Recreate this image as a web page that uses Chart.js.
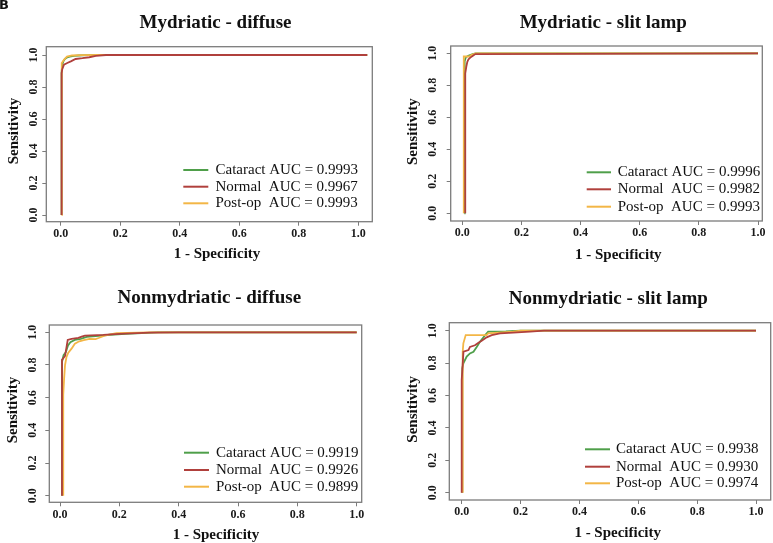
<!DOCTYPE html>
<html><head><meta charset="utf-8">
<script src="https://cdn.jsdelivr.net/npm/chart.js@4.4.1/dist/chart.umd.min.js"></script>
<style>
html,body{margin:0;padding:0;background:#fff;}
#wrap{position:relative;width:773px;height:543px;background:#fff;overflow:hidden;}
#wrap canvas{position:absolute;left:0;top:0;}
</style></head><body>
<div id="wrap">
<canvas id="c0" width="773" height="543"></canvas>
<canvas id="c1" width="773" height="543"></canvas>
<canvas id="c2" width="773" height="543"></canvas>
<canvas id="c3" width="773" height="543"></canvas>
</div>
<script>
// ---------------- data ----------------
const seriesNames = ['Cataract', 'Normal', 'Post-op'];
const legendGaps = [' ', '  ', '  '];
const panelTitles = ['Mydriatic - diffuse', 'Mydriatic - slit lamp', 'Nonmydriatic - diffuse', 'Nonmydriatic - slit lamp'];
const figureLabel = 'B';
const xAxisTitle = '1 - Specificity';
const yAxisTitle = 'Sensitivity';
const tickValues = [0, 0.2, 0.4, 0.6, 0.8, 1.0];
const tickLabels = ['0.0', '0.2', '0.4', '0.6', '0.8', '1.0'];

const aucMydDiffuse = [0.9993, 0.9967, 0.9993];
const aucMydSlit = [0.9996, 0.9982, 0.9993];
const aucNonDiffuse = [0.9919, 0.9926, 0.9899];
const aucNonSlit = [0.9938, 0.9930, 0.9974];

// Mydriatic - diffuse
const mydDiffuseCataractFpr = [0.003, 0.003, 0.005, 0.009, 0.014, 0.02, 0.03, 0.045, 0.06, 0.09, 0.12, 1.03];
const mydDiffuseCataractTpr = [0, 0.89, 0.94, 0.96, 0.975, 0.983, 0.99, 0.995, 0.997, 0.999, 1, 1];
const mydDiffuseNormalFpr = [0.003, 0.003, 0.005, 0.011, 0.022, 0.034, 0.05, 0.073, 0.096, 0.118, 0.152, 1.03];
const mydDiffuseNormalTpr = [0, 0.885, 0.91, 0.94, 0.95, 0.96, 0.975, 0.98, 0.986, 0.994, 1, 1];
const mydDiffusePostopFpr = [0.003, 0.003, 0.004, 0.011, 0.021, 0.038, 0.07, 0.13, 1.03];
const mydDiffusePostopTpr = [0, 0.91, 0.95, 0.97, 0.99, 0.997, 0.999, 1, 1];

// Mydriatic - slit lamp
const mydSlitCataractFpr = [0.007, 0.007, 0.009, 0.012, 0.02, 0.035, 0.045, 1.0];
const mydSlitCataractTpr = [0, 0.88, 0.95, 0.975, 0.985, 0.995, 1, 1];
const mydSlitNormalFpr = [0.01, 0.01, 0.0135, 0.017, 0.021, 0.027, 0.036, 0.044, 1.0];
const mydSlitNormalTpr = [0, 0.874, 0.916, 0.947, 0.963, 0.973, 0.985, 0.995, 1];
const mydSlitPostopFpr = [0.005, 0.005, 0.025, 0.03, 0.045, 1.0];
const mydSlitPostopTpr = [0, 0.98, 0.98, 0.99, 1, 1];

// Nonmydriatic - diffuse
const nonDiffuseCataractFpr = [0.007, 0.007, 0.012, 0.02, 0.027, 0.035, 0.05, 0.07, 0.09, 0.13, 0.17, 0.22, 0.33, 1.0];
const nonDiffuseCataractTpr = [0, 0.82, 0.86, 0.88, 0.92, 0.94, 0.953, 0.96, 0.972, 0.978, 0.985, 0.99, 1, 1];
const nonDiffuseNormalFpr = [0.0067, 0.0067, 0.017, 0.026, 0.039, 0.062, 0.073, 0.084, 0.146, 0.2, 0.3, 0.4, 1.0];
const nonDiffuseNormalTpr = [0, 0.831, 0.855, 0.953, 0.96, 0.966, 0.974, 0.98, 0.984, 0.99, 0.998, 1, 1];
const nonDiffusePostopFpr = [0.011, 0.011, 0.014, 0.017, 0.022, 0.028, 0.039, 0.05, 0.065, 0.08, 0.1, 0.12, 0.13, 0.15, 0.19, 0.3, 1.0];
const nonDiffusePostopTpr = [0, 0.62, 0.72, 0.8, 0.85, 0.875, 0.9, 0.93, 0.945, 0.952, 0.96, 0.958, 0.965, 0.98, 0.995, 1, 1];

// Nonmydriatic - slit lamp
const nonSlitCataractFpr = [0.002, 0.002, 0.006, 0.017, 0.028, 0.04, 0.051, 0.062, 0.08, 0.09, 0.15, 0.2, 1.0];
const nonSlitCataractTpr = [0, 0.768, 0.8, 0.84, 0.86, 0.87, 0.9, 0.932, 0.973, 0.994, 0.996, 1, 1];
const nonSlitNormalFpr = [0.0, 0.0, 0.006, 0.023, 0.028, 0.045, 0.057, 0.068, 0.085, 0.102, 0.13, 0.175, 0.232, 0.28, 1.0];
const nonSlitNormalTpr = [0, 0.696, 0.87, 0.88, 0.9, 0.91, 0.926, 0.938, 0.959, 0.973, 0.984, 0.988, 0.994, 1, 1];
const nonSlitPostopFpr = [0.0034, 0.0034, 0.0056, 0.0136, 0.085, 0.09, 0.175, 0.2, 1.0];
const nonSlitPostopTpr = [0, 0.87, 0.922, 0.973, 0.973, 0.984, 0.994, 1, 1];

// ---------------- styling / layout ----------------
const seriesColors = ['#4f9f4a', '#b0403c', '#f3b646'];
const seriesOrder = [2, 0, 1]; // red drawn on top, green at bottom
const FONT = '"Liberation Serif", "Times New Roman", serif';

const panels = [
  { canvas: 'c0', title: panelTitles[0], auc: aucMydDiffuse, corner: figureLabel,
    curves: [[mydDiffuseCataractFpr, mydDiffuseCataractTpr], [mydDiffuseNormalFpr, mydDiffuseNormalTpr], [mydDiffusePostopFpr, mydDiffusePostopTpr]],
    box: {l: 46.3, t: 46.7, r: 372.3, b: 221.7}, x0: 60.7, x1: 358.3, y0: 215, y1: 55,
    titleXY: [215.5, 23.3], xTitleXY: [217, 254.5], yTitleXY: [14.5, 131],
    yTickX: 34, xTickY: 234,
    leg: {x1: 183.3, x2: 208.3, tx: 215.5, rows: [170, 186.7, 203.3]} },
  { canvas: 'c1', title: panelTitles[1], auc: aucMydSlit,
    curves: [[mydSlitCataractFpr, mydSlitCataractTpr], [mydSlitNormalFpr, mydSlitNormalTpr], [mydSlitPostopFpr, mydSlitPostopTpr]],
    box: {l: 450.7, t: 46, r: 762.3, b: 221}, x0: 462.3, x1: 758, y0: 213.3, y1: 53.3,
    titleXY: [603.3, 23.3], xTitleXY: [618.3, 255], yTitleXY: [413.3, 131.7],
    yTickX: 432.7, xTickY: 233.3,
    leg: {x1: 586.7, x2: 611, tx: 617.7, rows: [172.3, 189.3, 206.7]} },
  { canvas: 'c2', title: panelTitles[2], auc: aucNonDiffuse,
    curves: [[nonDiffuseCataractFpr, nonDiffuseCataractTpr], [nonDiffuseNormalFpr, nonDiffuseNormalTpr], [nonDiffusePostopFpr, nonDiffusePostopTpr]],
    box: {l: 49.3, t: 325, r: 361.7, b: 502.3}, x0: 60, x1: 356.7, y0: 495.7, y1: 332.3,
    titleXY: [209.3, 298.3], xTitleXY: [216, 535], yTitleXY: [12.7, 410],
    yTickX: 33.3, xTickY: 515,
    leg: {x1: 184, x2: 209, tx: 216, rows: [452.7, 470, 486.7]} },
  { canvas: 'c3', title: panelTitles[3], auc: aucNonSlit,
    curves: [[nonSlitCataractFpr, nonSlitCataractTpr], [nonSlitNormalFpr, nonSlitNormalTpr], [nonSlitPostopFpr, nonSlitPostopTpr]],
    box: {l: 449.3, t: 322.7, r: 770.7, b: 500}, x0: 461.7, x1: 756, y0: 492.7, y1: 330.7,
    titleXY: [608.3, 299.3], xTitleXY: [617.7, 533.3], yTitleXY: [413.3, 409.3],
    yTickX: 432.7, xTickY: 511.7,
    leg: {x1: 585, x2: 610, tx: 616, rows: [449.3, 466.7, 483.3]} }
];

const W = 773, H = 543, AXW = 30, AXH = 30, TL = 4, TICKSIZE = 12;

const mctx = document.createElement('canvas').getContext('2d');
mctx.font = 'bold ' + TICKSIZE + 'px ' + FONT;
const widestTick = Math.max(...tickLabels.map(t => mctx.measureText(t).width));

const decor = {
  id: 'decor',
  afterDraw(chart, args, o) {
    const ctx = chart.ctx, a = chart.chartArea;
    ctx.save();
    ctx.strokeStyle = '#7c7c7c';
    ctx.lineWidth = 1.3;
    ctx.strokeRect(a.left, a.top, a.right - a.left, a.bottom - a.top);
    ctx.fillStyle = '#111';
    if (o.corner) {
      ctx.font = 'bold 13px "DejaVu Sans", sans-serif';
      ctx.textAlign = 'left';
      ctx.textBaseline = 'top';
      ctx.fillText(o.corner, -1, -1);
    }
    ctx.textAlign = 'center';
    ctx.textBaseline = 'middle';
    ctx.font = 'bold 19px ' + FONT;
    ctx.fillText(o.title, o.titleXY[0], o.titleXY[1]);
    ctx.font = 'bold 15px ' + FONT;
    ctx.fillText(xAxisTitle, o.xTitleXY[0], o.xTitleXY[1]);
    ctx.save();
    ctx.translate(o.yTitleXY[0], o.yTitleXY[1]);
    ctx.rotate(-Math.PI / 2);
    ctx.fillText(yAxisTitle, 0, 0);
    ctx.restore();
    // legend
    ctx.font = '15px ' + FONT;
    ctx.textAlign = 'left';
    seriesNames.forEach((n, i) => {
      const y = o.leg.rows[i];
      ctx.strokeStyle = seriesColors[i];
      ctx.lineWidth = 2;
      ctx.beginPath();
      ctx.moveTo(o.leg.x1, y);
      ctx.lineTo(o.leg.x2, y);
      ctx.stroke();
      ctx.fillStyle = '#111';
      ctx.fillText(n + legendGaps[i] + 'AUC = ' + o.auc[i].toFixed(4), o.leg.tx, y);
    });
    ctx.restore();
  }
};

panels.forEach(p => {
  const xmin = (p.box.l - p.x0) / (p.x1 - p.x0);
  const xmax = (p.box.r - p.x0) / (p.x1 - p.x0);
  const ymax = (p.y0 - p.box.t) / (p.y0 - p.y1);
  const ymin = (p.y0 - p.box.b) / (p.y0 - p.y1);
  const xPad = (p.xTickY - p.box.b) - TL - (TICKSIZE * 1.2) / 2;
  const yPad = (p.box.l - p.yTickX) - TL - widestTick / 2;
  const datasets = p.curves.map((c, i) => ({
    label: seriesNames[i],
    data: c[0].map((x, k) => ({x: x, y: c[1][k]})),
    borderColor: seriesColors[i],
    backgroundColor: seriesColors[i],
    borderWidth: 1.8,
    pointRadius: 0,
    tension: 0,
    fill: false,
    order: seriesOrder[i]
  }));
  const gridOpts = {display: true, drawOnChartArea: false, drawTicks: true, tickLength: TL, color: '#7c7c7c', lineWidth: 1};
  const tickFont = {family: FONT, size: TICKSIZE, weight: 'bold'};
  new Chart(document.getElementById(p.canvas), {
    type: 'line',
    data: {datasets},
    options: {
      responsive: false,
      animation: false,
      devicePixelRatio: 1,
      events: [],
      layout: {padding: {left: p.box.l - AXW, right: W - p.box.r, top: p.box.t, bottom: H - p.box.b - AXH}},
      plugins: {
        legend: {display: false},
        title: {display: false},
        tooltip: {enabled: false},
        decor: {title: p.title, auc: p.auc, corner: p.corner, titleXY: p.titleXY, xTitleXY: p.xTitleXY, yTitleXY: p.yTitleXY, leg: p.leg}
      },
      scales: {
        x: {
          type: 'linear', min: xmin, max: xmax,
          afterBuildTicks: s => { s.ticks = tickValues.map(v => ({value: v})); },
          afterFit: s => { s.height = AXH; },
          grid: gridOpts,
          border: {display: false},
          ticks: {autoSkip: false, maxRotation: 0, minRotation: 0, padding: xPad, color: '#1a1a1a', font: tickFont,
                  callback: (v, i) => tickLabels[i]}
        },
        y: {
          type: 'linear', min: ymin, max: ymax,
          afterBuildTicks: s => { s.ticks = tickValues.map(v => ({value: v})); },
          afterFit: s => { s.width = AXW; },
          grid: gridOpts,
          border: {display: false},
          ticks: {autoSkip: false, minRotation: 90, maxRotation: 90, crossAlign: 'center', padding: yPad, color: '#1a1a1a', font: tickFont,
                  callback: (v, i) => tickLabels[i]}
        }
      }
    },
    plugins: [decor]
  });
});
</script>
</body></html>
